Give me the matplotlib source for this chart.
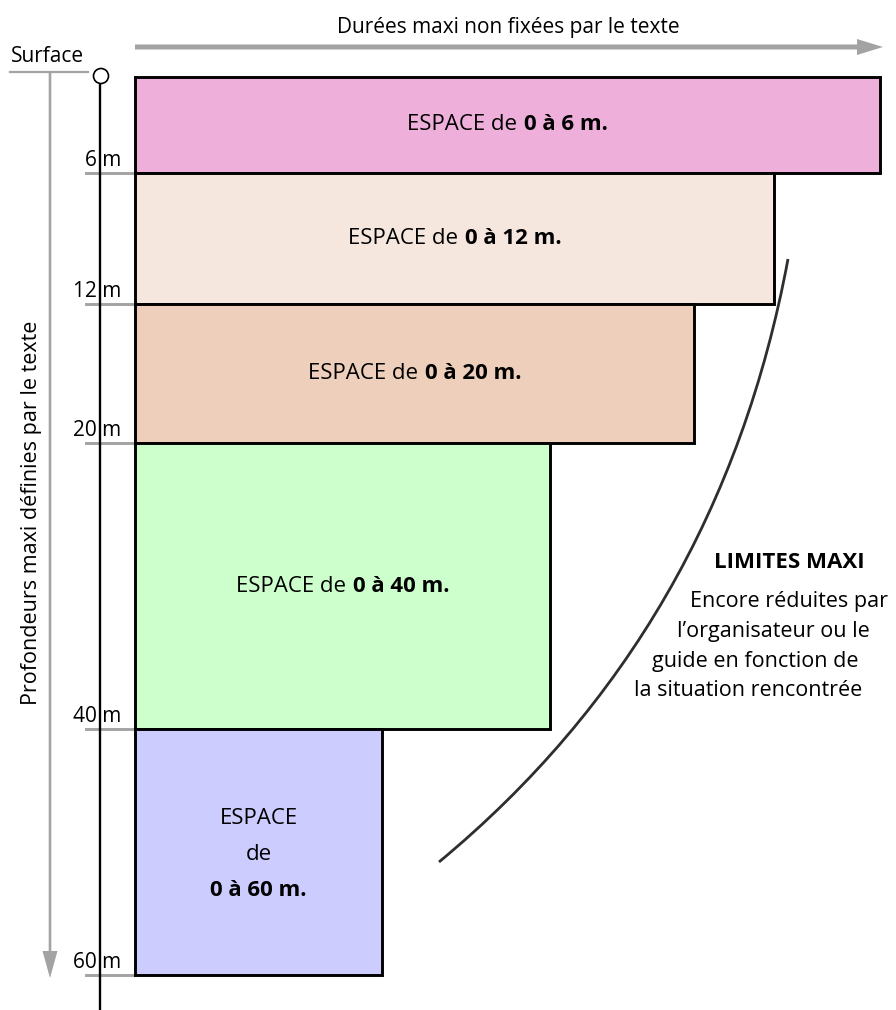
import numpy as np
import matplotlib
matplotlib.use('Agg')
import matplotlib.pyplot as plt
from matplotlib import transforms
from matplotlib.patches import Circle, PathPatch
from matplotlib.path import Path

plt.rcParams['font.family'] = ['Open Sans', 'DejaVu Sans']

# ---- donnees ------------------------------------------------------------
profondeurs = [6, 12, 20, 40, 60]                    # limites des espaces (m)
etiquettes = [f'{p} m' for p in profondeurs]
durees = [745, 639, 559, 415, 247]                   # longueur relative des cases
couleurs = ['#eeb0da', '#f5e6de', '#eecfbc', '#ccffcc', '#ccccff']
textes_reg = ['ESPACE de '] * 4
textes_bold = [f'0 à {p} m.' for p in profondeurs]

titre_x = 'Durées maxi non fixées par le texte'
titre_y = 'Profondeurs maxi définies par le texte'
limites_titre = 'LIMITES MAXI'
limites_lignes = ['Encore réduites par', 'l’organisateur ou le',
                  'guide en fonction de', 'la situation rencontrée']

# echelle verticale du schema (non proportionnelle)
knots_m = [0, 6, 12, 20, 40, 60]
knots_px = [0, 96, 227, 366, 652, 898]

def fwd(d):
    return np.interp(d, knots_m, knots_px)

def inv(v):
    return np.interp(v, knots_px, knots_m)

GRIS = '#a3a3a3'

fig = plt.figure(figsize=(8.96, 10.10), dpi=100)
deco = fig.add_axes([0, 0, 1, 1])
deco.set_xlim(0, 896)
deco.set_ylim(1010, 0)
deco.axis('off')

ax = fig.add_axes([135/896, 1-975/1010, 750/896, 898/1010], zorder=2)
ax.set_xlim(0, 750)
ax.set_yscale('function', functions=(fwd, inv))
ax.set_ylim(60, 0)
ax.axis('off')

# ---- cases ---------------------------------------------------------------
hauts = [0] + profondeurs[:-1]
ax.barh(hauts, durees, height=np.diff([0] + profondeurs), left=0, align='edge',
        color=couleurs, edgecolor='black', linewidth=2.1, clip_on=False)

renderer = fig.canvas.get_renderer()
fs_box = 16
for i in range(4):
    ymid = inv((fwd(hauts[i]) + fwd(profondeurs[i])) / 2)
    xmid = durees[i] / 2
    t1 = ax.text(xmid, ymid, textes_reg[i].strip(), ha='left', va='center', fontsize=fs_box)
    t2 = ax.text(xmid, ymid, textes_bold[i], ha='left', va='center', fontsize=fs_box,
                 weight='bold')
    w1 = t1.get_window_extent(renderer).width
    w2 = t2.get_window_extent(renderer).width
    gap = 7
    tot = w1 + gap + w2
    t1.set_transform(transforms.offset_copy(ax.transData, fig=fig, x=-tot/2, y=0, units='dots'))
    t2.set_transform(transforms.offset_copy(ax.transData, fig=fig, x=-tot/2 + w1 + gap, y=0,
                                            units='dots'))

# derniere case sur trois lignes
ymid = inv((fwd(hauts[4]) + fwd(profondeurs[4])) / 2)
for txt, dy, wt in [('ESPACE', 34, 'normal'), ('de', -3, 'normal'), (textes_bold[4], -38, 'bold')]:
    ax.text(durees[4] / 2, ymid, txt, ha='center', va='center', fontsize=fs_box, weight=wt,
            transform=transforms.offset_copy(ax.transData, fig=fig, x=0, y=dy, units='dots'))

# ---- axe des profondeurs -------------------------------------------------
deco.plot([100, 100], [84, 1010], color='black', lw=1.7, zorder=3)
deco.add_patch(Circle((101, 76), 7.5, facecolor='white', edgecolor='black', lw=1.2, zorder=4))

bl = transforms.blended_transform_factory(deco.transData, ax.transData)
for p, lab in zip(profondeurs, etiquettes):
    deco.plot([86, 135], [p, p], color=GRIS, lw=2.1, transform=bl, zorder=2)
    deco.text(121, p, lab, ha='right', va='baseline', fontsize=15, zorder=5,
              transform=transforms.offset_copy(bl, fig=fig, x=0, y=7, units='dots'))

# surface
deco.plot([10, 88], [72, 72], color=GRIS, lw=1.6)
deco.text(48, 57, 'Surface', ha='center', va='center', fontsize=15)

# fleches grises
deco.arrow(135, 47, 748, 0, width=5, head_width=16, head_length=26,
           length_includes_head=True, color=GRIS, lw=0)
deco.text(508, 27, titre_x, ha='center', va='center', fontsize=15)
deco.arrow(50, 72, 0, 906, width=2.6, head_width=15, head_length=27,
           length_includes_head=True, color=GRIS, lw=0)
deco.text(32, 513, titre_y, ha='center', va='center', rotation=90, fontsize=15.5)

# ---- courbe des limites --------------------------------------------------
courbe = Path([(788, 259), (742, 506), (626, 707), (439, 862)],
              [Path.MOVETO, Path.CURVE4, Path.CURVE4, Path.CURVE4])
deco.add_patch(PathPatch(courbe, facecolor='none', edgecolor='#2e2e2e', lw=2.0))

deco.text(789, 563, limites_titre, ha='center', va='center', fontsize=16, weight='bold')
for txt, xc, yc in zip(limites_lignes, [789, 773, 755, 748], [601, 632, 662, 691]):
    deco.text(xc, yc, txt, ha='center', va='center', fontsize=15.5)

fig.savefig('out.png', dpi=100)
